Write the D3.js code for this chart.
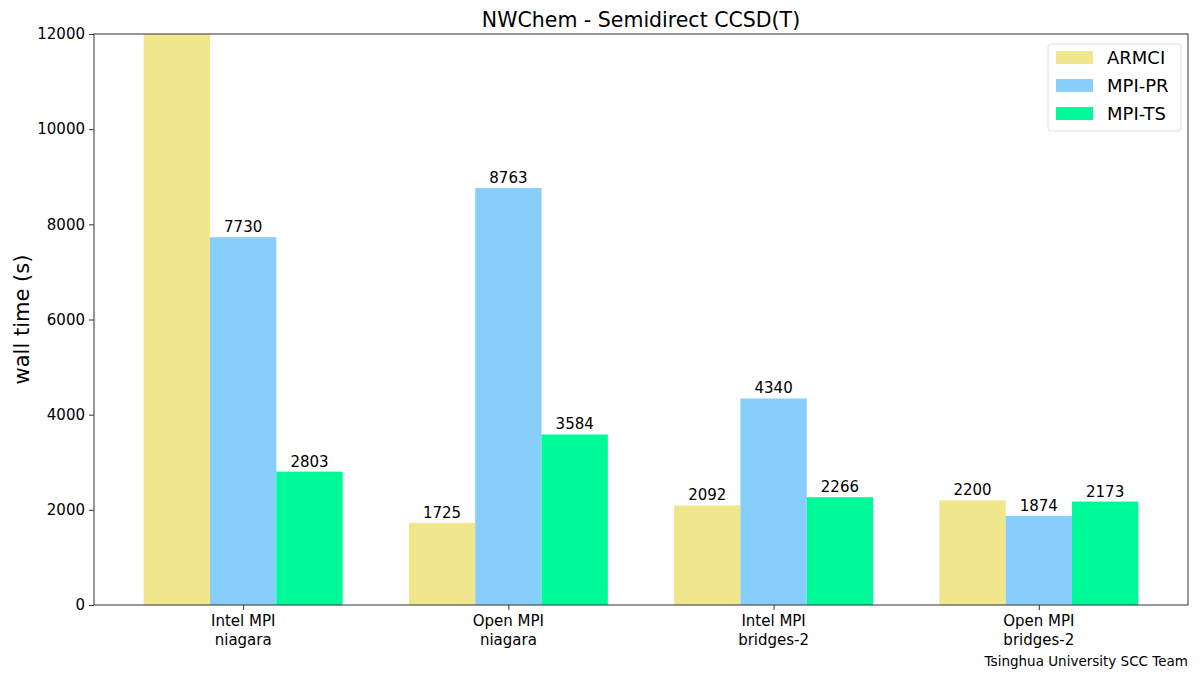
<!DOCTYPE html>
<html>
<head>
<meta charset="utf-8">
<script src="https://cdn.jsdelivr.net/npm/d3@7"></script>
<style>
  body { margin: 0; background: #fff; }
  text { font-family: "DejaVu Sans", sans-serif; fill: #000; }
</style>
</head>
<body>
<div id="chart-area"></div>
<script>
var width = 1200,
    height = 675;

var margin = { left: 94, right: 12, top: 34, bottom: 70 };

// data
var groups = ["Intel MPI\nniagara", "Open MPI\nniagara", "Intel MPI\nbridges-2", "Open MPI\nbridges-2"];
var seriesNames = ["ARMCI", "MPI-PR", "MPI-TS"];
var colors = ["#f0e68c", "#87cefa", "#00fa9a"];
var armci = [12500, 1725, 2092, 2200];
var mpiPR = [7730, 8763, 4340, 1874];
var mpiTS = [2803, 3584, 2266, 2173];
var yTicks = [0, 2000, 4000, 6000, 8000, 10000, 12000];

var series = [armci, mpiPR, mpiTS];
var barW = 0.25;

var svg = d3.select("#chart-area").append("svg")
    .attr("width", width)
    .attr("height", height);

var x = d3.scaleLinear()
    .domain([-0.5625, 3.5625])
    .range([margin.left, width - margin.right]);

var y = d3.scaleLinear()
    .domain([0, 12000])
    .range([height - margin.bottom, margin.top]);

svg.append("clipPath").attr("id", "clip")
  .append("rect")
    .attr("x", margin.left).attr("y", margin.top)
    .attr("width", width - margin.left - margin.right)
    .attr("height", height - margin.top - margin.bottom);

var plot = svg.append("g").attr("clip-path", "url(#clip)");

series.forEach(function(vals, s) {
  var off = (s - 1) * barW;
  plot.selectAll(".bar" + s)
    .data(vals)
    .enter().append("rect")
      .attr("x", (d, i) => x(i + off - barW / 2))
      .attr("width", x(barW) - x(0))
      .attr("y", d => y(d))
      .attr("height", d => y(0) - y(d))
      .attr("fill", colors[s]);

  // labels only for bars inside the axes
  svg.selectAll(".lab" + s)
    .data(vals.map((v, i) => ({ v: v, i: i })).filter(d => d.v <= 12000))
    .enter().append("text")
      .attr("x", d => x(d.i + off))
      .attr("y", d => y(d.v) - 5)
      .attr("text-anchor", "middle")
      .attr("font-size", 15)
      .text(d => d.v);
});

// axes frame
svg.append("rect")
    .attr("x", margin.left).attr("y", margin.top)
    .attr("width", width - margin.left - margin.right)
    .attr("height", height - margin.top - margin.bottom)
    .attr("fill", "none")
    .attr("stroke", "#333")
    .attr("stroke-width", 1);

var yAxis = svg.append("g")
    .attr("transform", "translate(" + margin.left + ",0)")
    .call(d3.axisLeft(y).tickValues(yTicks).tickSize(5).tickPadding(4).tickFormat(d3.format("d")));
yAxis.select(".domain").remove();
yAxis.selectAll("text").attr("font-size", 15).attr("font-family", "DejaVu Sans").attr("fill", "#000");
yAxis.selectAll("line").attr("stroke", "#333");

var xAxis = svg.append("g")
    .attr("transform", "translate(0," + y(0) + ")")
    .call(d3.axisBottom(x).tickValues([0, 1, 2, 3]).tickSize(5).tickFormat(""));
xAxis.select(".domain").remove();
xAxis.selectAll("line").attr("stroke", "#333");

groups.forEach(function(g, i) {
  var t = svg.append("text")
      .attr("x", x(i))
      .attr("y", y(0) + 21)
      .attr("text-anchor", "middle")
      .attr("font-size", 15);
  g.split("\n").forEach(function(line, k) {
    t.append("tspan").attr("x", x(i)).attr("dy", k === 0 ? 0 : 19).text(line);
  });
});

// title
svg.append("text")
    .attr("x", (margin.left + width - margin.right) / 2)
    .attr("y", 27)
    .attr("text-anchor", "middle")
    .attr("font-size", 20.5)
    .text("NWChem - Semidirect CCSD(T)");

// y label
svg.append("text")
    .attr("transform", "translate(29," + ((margin.top + height - margin.bottom) / 2) + ") rotate(-90)")
    .attr("text-anchor", "middle")
    .attr("font-size", 21)
    .text("wall time (s)");

// footer
svg.append("text")
    .attr("x", 1188)
    .attr("y", 666)
    .attr("text-anchor", "end")
    .attr("font-size", 13.5)
    .text("Tsinghua University SCC Team");

// legend
var leg = svg.append("g").attr("transform", "translate(1048,44)");
leg.append("rect")
    .attr("width", 133).attr("height", 87)
    .attr("rx", 3)
    .attr("fill", "#fff").attr("fill-opacity", 0.8)
    .attr("stroke", "#ddd");
seriesNames.forEach(function(n, i) {
  leg.append("rect")
      .attr("x", 8).attr("y", 7 + i * 28)
      .attr("width", 37).attr("height", 13)
      .attr("fill", colors[i]);
  leg.append("text")
      .attr("x", 59).attr("y", 20 + i * 28)
      .attr("font-size", 18)
      .text(n);
});
</script>
</body>
</html>
